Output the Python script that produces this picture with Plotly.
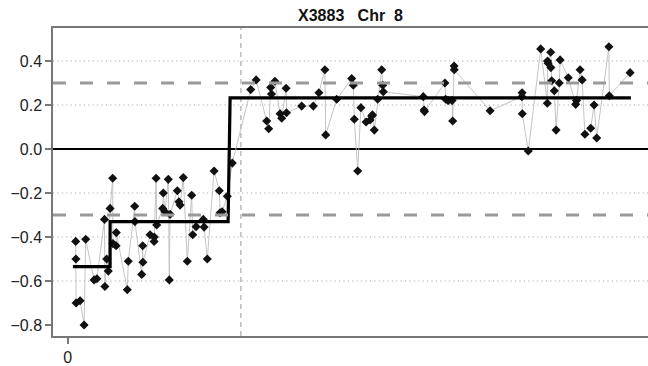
import plotly.graph_objects as go

# probe positions (Mb) and log-ratio values
pos = [2.0, 2.05, 2.1, 3.1, 4.1, 4.5, 6.6, 7.3, 9.2, 9.3, 9.75, 10.15, 10.6, 11.25, 11.3,
       12.1, 12.15, 14.9, 15.15, 16.75, 16.8, 18.5, 18.75, 18.8, 20.6, 21.6, 21.65, 22.1,
       22.25, 23.75, 23.9, 24.3, 25.15, 25.4, 25.6, 27.4, 27.8, 28.1, 28.9, 29.9, 31.0,
       31.25, 32.1, 33.9, 34.1, 34.9, 36.6, 37.9, 38.1, 38.6, 39.9, 41.15,
       45.75, 47.1, 49.75, 50.25, 50.75, 50.95, 51.8, 53.1, 53.5, 54.6, 54.7, 58.5, 61.4,
       62.8, 64.3, 64.5, 67.25, 71.0, 71.4, 71.65, 72.5, 73.3, 74.6, 75.6, 76.0, 76.2,
       76.65, 77.5, 78.5, 78.75, 78.9, 88.9, 89.1, 89.2, 94.3, 94.5, 95.1, 96.1, 96.25,
       96.6, 96.65, 105.6, 113.55, 113.6, 113.65, 115.15, 118.25, 119.9, 119.95, 120.1,
       120.75, 120.8, 121.0, 121.65, 122.1, 122.9, 123.1, 125.15, 127.0, 127.2, 128.1,
       128.6, 129.3, 130.75, 131.6, 132.25, 135.3, 135.4, 140.6]
ratio = [-0.42, -0.50, -0.70, -0.69, -0.80, -0.41, -0.595, -0.59, -0.32, -0.625, -0.50,
         -0.555, -0.27, -0.133, -0.43, -0.44, -0.38, -0.64, -0.51, -0.26, -0.33, -0.57,
         -0.44, -0.515, -0.39, -0.42, -0.40, -0.133, -0.345, -0.27, -0.20, -0.285, -0.138,
         -0.595, -0.297, -0.19, -0.24, -0.255, -0.13, -0.51, -0.21, -0.39, -0.353, -0.32,
         -0.355, -0.50, -0.10, -0.19, -0.29, -0.285, -0.215, -0.064,
         0.27, 0.314, 0.127, 0.092, 0.28, 0.25, 0.308, 0.16, 0.14, 0.276, 0.165, 0.195,
         0.195, 0.256, 0.36, 0.064, 0.226, 0.32, 0.29, 0.135, -0.10, 0.188, 0.123, 0.132,
         0.15, 0.155, 0.086, 0.226, 0.36, 0.29, 0.26, 0.238, 0.177, 0.17, 0.30, 0.226,
         0.22, 0.22, 0.127, 0.377, 0.36, 0.174, 0.238, 0.256, 0.16, -0.009, 0.455, 0.208,
         0.40, 0.39, 0.44, 0.37, 0.31, 0.265, 0.086, 0.30, 0.405, 0.324, 0.203, 0.22,
         0.36, 0.314, 0.067, 0.094, 0.20, 0.05, 0.465, 0.242, 0.347]

# segmentation result
seg_start = [1.3, 10.6, 40.6]
seg_end = [10.6, 40.1, 140.8]
seg_mean = [-0.535, -0.33, 0.232]

centromere = 43.3
threshold = 0.3
grid_levels = [-0.6, -0.4, -0.2, 0.2, 0.4]
y_ticks = [-0.8, -0.6, -0.4, -0.2, 0.0, 0.2, 0.4]
y_ticktext = ["\u22120.8", "\u22120.6", "\u22120.4", "\u22120.2", "0.0", "0.2", "0.4"]
x_ticks = [0]
x_ticktext = ["0"]
title = "X3883\u00a0\u00a0\u00a0Chr\u00a0\u00a08"

# step line for segments
seg_x, seg_y = [], []
for s, e, m in zip(seg_start, seg_end, seg_mean):
    seg_x += [s, e]
    seg_y += [m, m]

fig = go.Figure()
fig.add_trace(go.Scatter(
    x=pos, y=ratio, mode="lines+markers",
    line=dict(color="#bdbdbd", width=0.9),
    marker=dict(symbol="diamond", size=7, color="#111"),
    showlegend=False, hoverinfo="skip"))
fig.add_trace(go.Scatter(
    x=seg_x, y=seg_y, mode="lines",
    line=dict(color="black", width=3.2),
    showlegend=False, hoverinfo="skip"))

shapes = []
for g in grid_levels:
    shapes.append(dict(type="line", xref="paper", x0=0, x1=1, y0=g, y1=g,
                       line=dict(color="#a8a8a8", width=1, dash="1.2px,3.2px"), layer="below"))
shapes.append(dict(type="line", xref="paper", x0=0, x1=1, y0=0, y1=0,
                   line=dict(color="black", width=2), layer="below"))
shapes.append(dict(type="line", yref="paper", y0=0, y1=1, x0=centromere, x1=centromere,
                   line=dict(color="#b0b0b0", width=1.3, dash="5px,4px"), layer="below"))
for t in (threshold, -threshold):
    shapes.append(dict(type="line", xref="paper", x0=0, x1=1, y0=t, y1=t,
                       line=dict(color="#999999", width=3, dash="13px,14px"), layer="above"))

font = dict(family="Liberation Sans, Arial, sans-serif", size=16, color="#222")
fig.update_layout(
    width=648, height=366,
    margin=dict(l=53, r=0, t=28, b=30),
    paper_bgcolor="white", plot_bgcolor="white",
    font=font,
    shapes=shapes,
    title=dict(text="<b>" + title + "</b>", x=0.5, xref="paper", xanchor="center",
               y=1 - 15 / 366, yref="container", yanchor="middle",
               font=dict(family="Liberation Sans, Arial, sans-serif", size=16, color="#111")),
)
fig.update_xaxes(range=[-3.675, 145.075], tickvals=x_ticks, ticktext=x_ticktext,
                 showgrid=False, zeroline=False, showline=True, mirror=True,
                 linecolor="#777", linewidth=1.5, ticks="outside", ticklen=6,
                 tickcolor="#777", tickwidth=1.5)
fig.update_yaxes(range=[-0.85, 0.55], tickvals=y_ticks, ticktext=y_ticktext,
                 showgrid=False, zeroline=False, showline=True, mirror=False,
                 linecolor="#777", linewidth=1.5, ticks="outside", ticklen=6,
                 tickcolor="#777", tickwidth=1.5)

fig.write_html("out.html")
